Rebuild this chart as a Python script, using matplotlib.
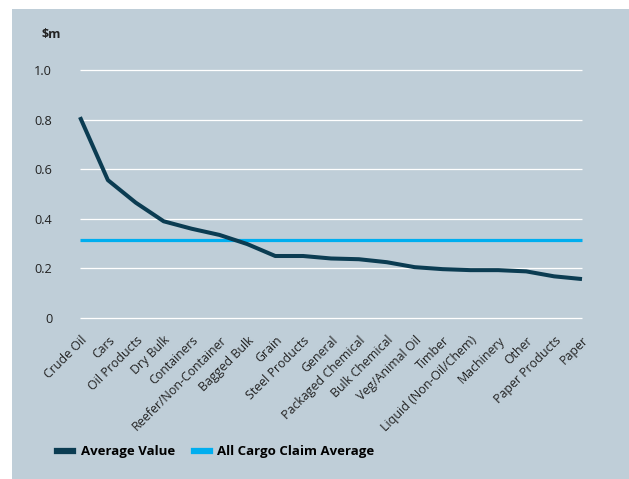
import matplotlib
matplotlib.use('Agg')
import matplotlib.pyplot as plt
from matplotlib.patches import Rectangle
from matplotlib.lines import Line2D

# datos
categorias = ['Crude Oil', 'Cars', 'Oil Products', 'Dry Bulk', 'Containers',
              'Reefer/Non-Container', 'Bagged Bulk', 'Grain', 'Steel Products',
              'General', 'Packaged Chemical', 'Bulk Chemical', 'Veg/Animal Oil',
              'Timber', 'Liquid (Non-Oil/Chem)', 'Machinery', 'Other',
              'Paper Products', 'Paper']
valores = [0.81, 0.556, 0.465, 0.39, 0.36, 0.335, 0.298, 0.25, 0.25, 0.24,
           0.237, 0.225, 0.205, 0.197, 0.193, 0.193, 0.188, 0.168, 0.157]
promedio = 0.315
yticks = [0, 0.2, 0.4, 0.6, 0.8, 1.0]
ytick_labels = ['0', '0.2', '0.4', '0.6', '0.8', '1.0']

plt.rcParams['font.family'] = ['Open Sans', 'DejaVu Sans']

W, H = 629, 479
fig = plt.figure(figsize=(W / 100, H / 100), dpi=100)
fig.patch.set_facecolor('white')
fondo = '#bfced8'
fig.patches.append(Rectangle((12 / W, 0), 1, 1 - 9 / H, transform=fig.transFigure,
                             facecolor=fondo, edgecolor='none', zorder=-10))

# ejes: x 0..18 -> 80..582 px, y 0..1 -> 318..70 px
n = len(categorias)
px_x = (582 - 80) / (n - 1)
px_y = 318 - 70
xpad, ypad = 0.3, 0.03
left = 80 - xpad * px_x
right = 582 + xpad * px_x
bottom = 318 + ypad * px_y
top = 70 - ypad * px_y
ax = fig.add_axes([left / W, 1 - bottom / H, (right - left) / W, (bottom - top) / H])
ax.set_facecolor('none')
ax.set_xlim(-xpad, n - 1 + xpad)
ax.set_ylim(-ypad, 1 + ypad)
for s in ax.spines.values():
    s.set_visible(False)

ax.hlines(yticks, 0, n - 1, color='white', lw=0.9, zorder=1)
x = list(range(n))
ax.plot(x, valores, color='#0b3c52', lw=2.9, solid_capstyle='butt', zorder=3)
ax.hlines(promedio, 0, n - 1, color='#00aeef', lw=2.3, zorder=2)

ax.set_yticks(yticks)
ax.set_yticklabels(ytick_labels, fontsize=9.2, color='#222222')
ax.set_xticks(x)
ax.set_xticklabels(categorias, rotation=45, ha='right', rotation_mode='anchor',
                   fontsize=8.9, color='#222222')
ax.tick_params(axis='y', length=0, pad=14)
ax.tick_params(axis='x', length=0, pad=6)

fig.text(61 / W, 1 - 35 / H, '$m', ha='right', va='center', fontsize=9,
         fontweight='bold', color='#222222')

handles = [Line2D([], [], color='#0b3c52', lw=4.5),
           Line2D([], [], color='#00aeef', lw=4.5)]
fig.legend(handles, ['Average Value', 'All Cargo Claim Average'], ncol=2,
           loc='center', bbox_to_anchor=(216 / W, 1 - 452 / H), frameon=False,
           prop={'size': 9.5, 'weight': 'bold'}, handlelength=1.2,
           handletextpad=0.6, columnspacing=1.4)

fig.savefig('out.png', dpi=100, facecolor='white')
